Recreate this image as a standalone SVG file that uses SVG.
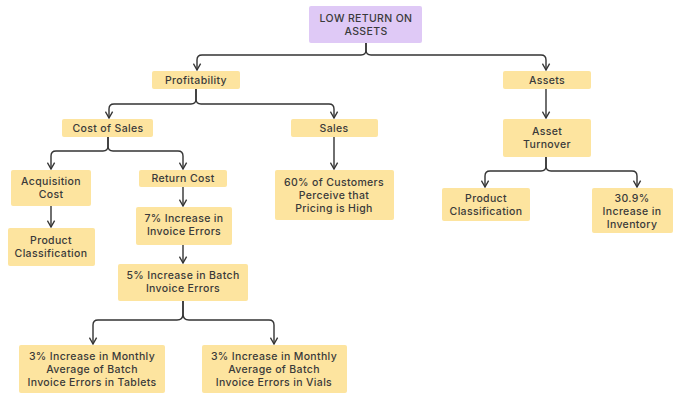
<svg xmlns="http://www.w3.org/2000/svg" width="673" height="397" viewBox="0 0 673 397">
<style>
.n rect{fill:#fde49f;rx:2px}
.root rect{fill:#dfc9f6;rx:2px}
text{font-family:Inter,"Liberation Sans",sans-serif;font-size:10.5px;font-weight:500;letter-spacing:0.35px;fill:#3a3a3a;text-anchor:middle}
.c path{fill:none;stroke:#333;stroke-width:1.4;marker-end:url(#a)}
</style>
<defs>
<marker id="a" viewBox="0 0 10 10" refX="9" refY="5" markerWidth="9" markerHeight="9" orient="auto" markerUnits="userSpaceOnUse"><path d="M2,1 L9,5 L2,9" fill="none" stroke="#333" stroke-width="1.5"/></marker>
</defs>
<rect width="673" height="397" fill="#fff"/>
<g class="c">
<path d="M366,43 V50 Q366,55 361,55 H202 Q197,55 197,60 V70"/>
<path d="M366,43 V50 Q366,55 371,55 H541 Q546,55 546,60 V70"/>
<path d="M196,89 V99 Q196,104 191,104 H114 Q109,104 109,109 V118"/>
<path d="M196,89 V99 Q196,104 201,104 H329 Q334,104 334,109 V118"/>
<path d="M108,137 V146 Q108,151 103,151 H56 Q51,151 51,156 V169"/>
<path d="M108,137 V146 Q108,151 113,151 H178 Q183,151 183,156 V169"/>
<path d="M51,206 V227"/>
<path d="M183,187 V206"/>
<path d="M183,245 V263"/>
<path d="M183,301 V314 Q183,320 177,320 H98 Q93,320 93,325 V344"/>
<path d="M183,301 V314 Q183,320 189,320 H269 Q274,320 274,325 V344"/>
<path d="M334,137 V169"/>
<path d="M546,89 V118"/>
<path d="M546,157 V166 Q546,171 541,171 H490 Q485,171 485,176 V187"/>
<path d="M546,157 V166 Q546,171 551,171 H632 Q637,171 637,176 V187"/>
</g>
<g id="root" class="root"><rect x="309" y="6" width="113" height="37"/><text x="366" y="22">LOW RETURN ON</text><text x="366" y="35">ASSETS</text></g>
<g id="profitability" class="n"><rect x="152" y="71" width="88" height="18"/><text x="196" y="84">Profitability</text></g>
<g id="assets" class="n"><rect x="503" y="71" width="88" height="18"/><text x="547" y="84">Assets</text></g>
<g id="costofsales" class="n"><rect x="62" y="119" width="91" height="18"/><text x="108" y="132">Cost of Sales</text></g>
<g id="sales" class="n"><rect x="291" y="119" width="87" height="18"/><text x="334" y="132">Sales</text></g>
<g id="acquisition" class="n"><rect x="11" y="170" width="80" height="36"/><text x="51" y="185">Acquisition</text><text x="51" y="198">Cost</text></g>
<g id="prodclass1" class="n"><rect x="8" y="228" width="87" height="38"/><text x="51" y="244">Product</text><text x="51" y="257">Classification</text></g>
<g id="returncost" class="n"><rect x="139" y="170" width="88" height="17"/><text x="183" y="182">Return Cost</text></g>
<g id="inc7" class="n"><rect x="136" y="207" width="96" height="38"/><text x="184" y="222">7% Increase in</text><text x="184" y="235">Invoice Errors</text></g>
<g id="inc5" class="n"><rect x="118" y="264" width="130" height="37"/><text x="183" y="279">5% Increase in Batch</text><text x="183" y="292">Invoice Errors</text></g>
<g id="tablets" class="n"><rect x="19" y="345" width="146" height="48"/><text x="92" y="360">3% Increase in Monthly</text><text x="92" y="373">Average of Batch</text><text x="92" y="386">Invoice Errors in Tablets</text></g>
<g id="vials" class="n"><rect x="202" y="345" width="145" height="48"/><text x="274" y="360">3% Increase in Monthly</text><text x="274" y="373">Average of Batch</text><text x="274" y="386">Invoice Errors in Vials</text></g>
<g id="pct60" class="n"><rect x="275" y="170" width="119" height="50"/><text x="334" y="186">60% of Customers</text><text x="334" y="199">Perceive that</text><text x="334" y="212">Pricing is High</text></g>
<g id="assetturnover" class="n"><rect x="503" y="119" width="88" height="38"/><text x="547" y="135">Asset</text><text x="547" y="148">Turnover</text></g>
<g id="prodclass2" class="n"><rect x="442" y="188" width="88" height="33"/><text x="486" y="202">Product</text><text x="486" y="215">Classification</text></g>
<g id="inc309" class="n"><rect x="592" y="188" width="81" height="45"/><text x="632" y="202">30.9%</text><text x="632" y="215">Increase in</text><text x="632" y="228">Inventory</text></g>
</svg>
